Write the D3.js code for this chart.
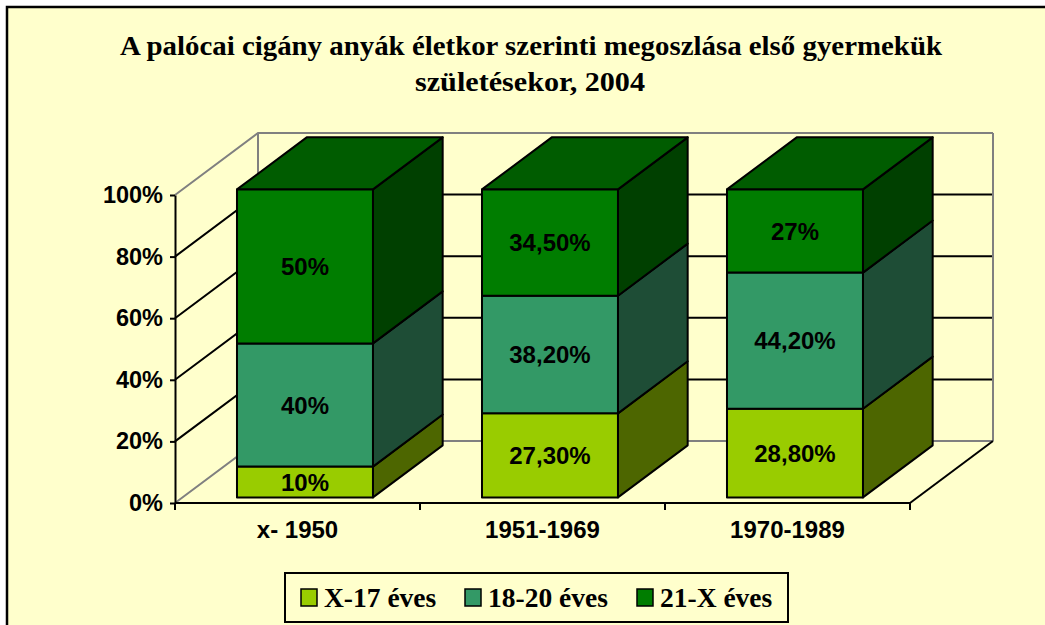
<!DOCTYPE html>
<html>
<head>
<meta charset="utf-8">
<script src="https://cdn.jsdelivr.net/npm/d3@7"></script>
<style>
  body { margin: 0; background: #fff; }
  svg { display: block; }
</style>
</head>
<body>
<svg id="chart"></svg>
<script>
// data
const categories = ["x- 1950", "1951-1969", "1970-1989"];
const seriesNames = ["X-17 éves", "18-20 éves", "21-X éves"];
const young = [10, 27.3, 28.8];
const middle = [40, 38.2, 44.2];
const older = [50, 34.5, 27];
const yTicks = [0, 20, 40, 60, 80, 100];

const width = 1045, height = 625;
const bg = "#FFFFCC";
// front, side, top shade per series
const shades = [
  { front: "#99CC00", side: "#4D6600", top: "#6E9200" },
  { front: "#339966", side: "#1E4D36", top: "#24704A" },
  { front: "#007D00", side: "#004000", top: "#005C00" }
];

const rows = categories.map((c, i) => ({ cat: c, s0: young[i], s1: middle[i], s2: older[i] }));
const stack = d3.stack().keys(["s0", "s1", "s2"])(rows);

const svg = d3.select("#chart").attr("width", width).attr("height", height);

// frame
svg.append("rect")
  .attr("x", 7).attr("y", 7)
  .attr("width", width + 10).attr("height", height + 10)
  .attr("fill", bg).attr("stroke", "#000").attr("stroke-width", 2.5);

// title
const title = svg.append("g")
  .attr("font-family", "'Liberation Serif', 'Times New Roman', serif")
  .attr("font-weight", "bold").attr("font-size", 28).attr("text-anchor", "middle");
title.append("text").attr("x", 531).attr("y", 55)
  .attr("textLength", 822).attr("lengthAdjust", "spacingAndGlyphs")
  .text("A palócai cigány anyák életkor szerinti megoszlása első gyermekük");
title.append("text").attr("x", 530).attr("y", 91)
  .attr("textLength", 230).attr("lengthAdjust", "spacingAndGlyphs")
  .text("születésekor, 2004");

// scales
const x = d3.scaleBand().domain(categories).range([175, 910]).padding(0);
const y = d3.scaleLinear().domain([0, 100]).range([503, 195]);
const dX = 83, dY = -62;            // depth of the box
const fOff = 0.09, fDepth = 0.84;   // where the bars sit in depth
const barW = x.bandwidth() * 0.555;

// walls and gridlines
const walls = svg.append("g").attr("fill", "none").attr("stroke-width", 2);
yTicks.forEach(t => {
  const edge = (t === 0 || t === 100);
  const col = edge ? "#808080" : "#000";
  walls.append("path")
    .attr("d", `M${x.range()[0]},${y(t)}L${x.range()[0] + dX},${y(t) + dY}H${x.range()[1] + dX}`)
    .attr("stroke", col);
});
walls.append("path")
  .attr("d", `M${x.range()[0] + dX},${y(100) + dY}V${y(0) + dY}`)
  .attr("stroke", "#808080");
walls.append("path")
  .attr("d", `M${x.range()[1] + dX},${y(100) + dY}V${y(0) + dY}`)
  .attr("stroke", "#808080");
walls.append("path")
  .attr("d", `M${x.range()[1]},${y(0)}L${x.range()[1] + dX},${y(0) + dY}`)
  .attr("stroke", "#000");

// bars
const bars = svg.append("g").attr("stroke", "#000").attr("stroke-width", 2).attr("stroke-linejoin", "round");
const sx = dX * fDepth, sy = dY * fDepth;
stack.forEach((layer, si) => {
  layer.forEach(d => {
    const left = x(d.data.cat) + (x.bandwidth() - barW) / 2 + dX * fOff;
    const right = left + barW;
    const top = y(d[1]) + dY * fOff, bot = y(d[0]) + dY * fOff;
    bars.append("path")
      .attr("d", `M${right},${top}L${right + sx},${top + sy}L${right + sx},${bot + sy}L${right},${bot}Z`)
      .attr("fill", shades[si].side);
    if (si === stack.length - 1) {
      bars.append("path")
        .attr("d", `M${left},${top}L${left + sx},${top + sy}L${right + sx},${top + sy}L${right},${top}Z`)
        .attr("fill", shades[si].top);
    }
    bars.append("rect")
      .attr("x", left).attr("y", top)
      .attr("width", barW).attr("height", bot - top)
      .attr("fill", shades[si].front);
  });
});

// data labels
const fmt = v => (Number.isInteger(v) ? v : v.toFixed(2).replace(".", ",")) + "%";
const lab = svg.append("g")
  .attr("font-family", "Arial, 'Liberation Sans', sans-serif")
  .attr("font-weight", "bold").attr("font-size", 24).attr("text-anchor", "middle");
stack.forEach(layer => {
  layer.forEach(d => {
    const v = d[1] - d[0];
    lab.append("text")
      .attr("x", x(d.data.cat) + x.bandwidth() / 2 + dX * fOff)
      .attr("y", (y(d[0]) + y(d[1])) / 2 + dY * fOff)
      .attr("dy", "0.36em")
      .text(fmt(+v.toFixed(1)));
  });
});

// y axis
const yAxis = svg.append("g")
  .attr("transform", `translate(${x.range()[0]},0)`)
  .call(d3.axisLeft(y).tickValues(yTicks).tickFormat(d => d + "%")
    .tickSizeInner(5).tickSizeOuter(0).tickPadding(7));
yAxis.select(".domain").attr("stroke", "#000").attr("stroke-width", 2);
yAxis.selectAll(".tick line").attr("stroke", "#000").attr("stroke-width", 2);
yAxis.selectAll("text")
  .attr("font-family", "Arial, 'Liberation Sans', sans-serif")
  .attr("font-weight", "bold").attr("font-size", 23.5).attr("fill", "#000");

// x axis
const xAxis = svg.append("g").attr("stroke", "#000").attr("stroke-width", 2);
xAxis.append("line")
  .attr("x1", x.range()[0]).attr("x2", x.range()[1])
  .attr("y1", y(0)).attr("y2", y(0));
categories.concat([null]).forEach(c => {
  const px = c === null ? x.range()[1] : x(c);
  xAxis.append("line").attr("x1", px).attr("x2", px).attr("y1", y(0)).attr("y2", y(0) + 7);
});
svg.append("g")
  .attr("font-family", "Arial, 'Liberation Sans', sans-serif")
  .attr("font-weight", "bold").attr("font-size", 24).attr("text-anchor", "middle")
  .selectAll("text").data(categories).join("text")
  .attr("x", d => x(d) + x.bandwidth() / 2)
  .attr("y", 538)
  .text(d => d);

// legend
const legend = svg.append("g").attr("transform", "translate(285,573)");
legend.append("rect").attr("width", 503).attr("height", 49)
  .attr("fill", bg).attr("stroke", "#000").attr("stroke-width", 2);
const legendX = [16, 180, 352];
const item = legend.selectAll("g.item").data(seriesNames).join("g")
  .attr("class", "item")
  .attr("transform", (d, i) => `translate(${legendX[i]},0)`);
item.append("rect")
  .attr("x", 0).attr("y", 16).attr("width", 16).attr("height", 17)
  .attr("fill", (d, i) => shades[i].front)
  .attr("stroke", "#000").attr("stroke-width", 1.5);
item.append("text")
  .attr("x", 23).attr("y", 34)
  .attr("font-family", "'Liberation Serif', 'Times New Roman', serif")
  .attr("font-weight", "bold").attr("font-size", 27.5)
  .text(d => d);
</script>
</body>
</html>
